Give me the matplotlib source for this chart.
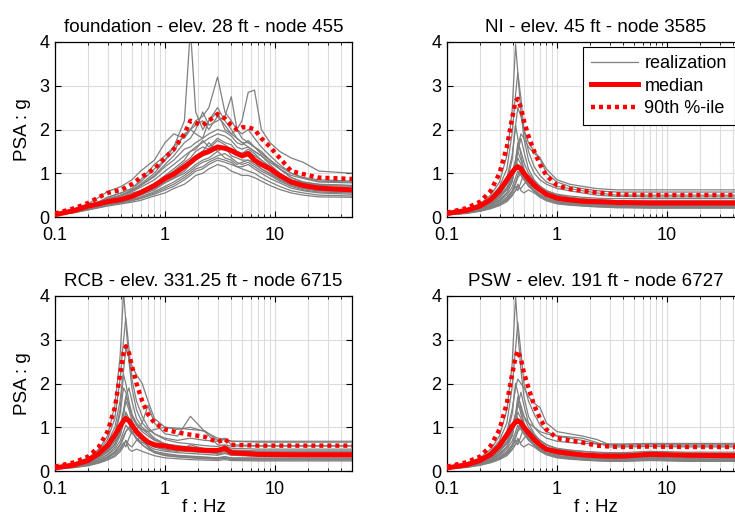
import matplotlib

matplotlib.use("Agg")
import matplotlib.pyplot as plt
from matplotlib.ticker import FixedLocator, LogLocator, NullFormatter

plt.rcParams["font.family"] = ["Liberation Sans", "DejaVu Sans"]

# Frequency grids (Hz).
FREQ_FOUNDATION = [0.1, 0.15, 0.2, 0.25, 0.3, 0.4, 0.5, 0.6, 0.8, 1.0,
                   1.2, 1.5, 1.7, 1.9, 2.2, 2.5, 3.0, 3.5, 4.0, 4.5,
                   5.0, 5.7, 6.5, 7.5, 9.0, 11, 14, 18, 25, 50]
FREQ_BUILDING = [0.1, 0.15, 0.2, 0.25, 0.3, 0.35, 0.39, 0.42, 0.44, 0.47,
                 0.5, 0.55, 0.62, 0.7, 0.8, 1.0, 1.3, 1.7, 2.3, 3.0,
                 3.5, 4.0, 7.0, 15, 50]

# foundation - elev. 28 ft - node 455
FDN_REAL = [
    [0.06, 0.15, 0.25, 0.32, 0.40, 0.50, 0.60, 0.75, 1.00, 1.30, 1.60, 2.20, 4.30, 2.40, 2.00, 2.20, 2.50, 2.20, 2.00, 1.80, 1.70, 1.60, 1.50, 1.40, 1.25, 1.10, 0.95, 0.88, 0.80, 0.78],
    [0.05, 0.14, 0.24, 0.33, 0.45, 0.55, 0.65, 0.80, 1.10, 1.30, 1.50, 1.90, 2.00, 2.20, 2.30, 2.50, 3.20, 2.40, 2.20, 2.00, 1.90, 2.00, 1.80, 1.60, 1.40, 1.20, 1.00, 0.90, 0.85, 0.82],
    [0.05, 0.13, 0.22, 0.30, 0.40, 0.50, 0.62, 0.72, 0.95, 1.20, 1.40, 1.70, 1.80, 2.00, 2.40, 2.10, 2.20, 2.30, 2.75, 2.00, 1.80, 1.70, 1.60, 1.45, 1.30, 1.15, 1.00, 0.90, 0.82, 0.80],
    [0.06, 0.16, 0.27, 0.35, 0.45, 0.55, 0.65, 0.85, 1.20, 1.40, 1.60, 1.85, 2.00, 2.10, 2.20, 2.00, 2.30, 2.10, 1.90, 2.00, 2.20, 2.85, 2.90, 2.00, 1.70, 1.50, 1.35, 1.25, 1.05, 1.00],
    [0.07, 0.18, 0.30, 0.45, 0.58, 0.70, 0.85, 1.05, 1.30, 1.70, 1.90, 1.80, 2.00, 1.90, 1.80, 2.20, 2.40, 2.00, 1.90, 1.80, 1.70, 1.70, 1.60, 1.50, 1.30, 1.10, 0.90, 0.80, 0.75, 0.72],
    [0.05, 0.13, 0.22, 0.30, 0.38, 0.45, 0.55, 0.60, 0.75, 0.95, 1.10, 1.30, 1.50, 1.60, 1.70, 1.80, 1.90, 1.85, 1.75, 1.60, 1.55, 1.60, 1.50, 1.40, 1.20, 1.00, 0.85, 0.78, 0.72, 0.70],
    [0.05, 0.12, 0.20, 0.26, 0.32, 0.38, 0.45, 0.52, 0.65, 0.80, 0.90, 1.05, 1.20, 1.30, 1.40, 1.45, 1.60, 1.55, 1.50, 1.45, 1.35, 1.40, 1.30, 1.20, 1.05, 0.90, 0.75, 0.68, 0.62, 0.60],
    [0.04, 0.11, 0.18, 0.24, 0.29, 0.34, 0.40, 0.46, 0.58, 0.70, 0.80, 0.95, 1.05, 1.15, 1.25, 1.30, 1.40, 1.45, 1.35, 1.25, 1.20, 1.25, 1.15, 1.05, 0.95, 0.82, 0.70, 0.62, 0.57, 0.55],
    [0.04, 0.10, 0.17, 0.22, 0.27, 0.32, 0.37, 0.42, 0.52, 0.62, 0.70, 0.85, 0.95, 1.05, 1.10, 1.20, 1.30, 1.25, 1.20, 1.15, 1.10, 1.05, 1.00, 0.90, 0.80, 0.70, 0.60, 0.55, 0.50, 0.48],
    [0.04, 0.10, 0.16, 0.21, 0.25, 0.30, 0.34, 0.38, 0.48, 0.55, 0.65, 0.75, 0.85, 0.95, 1.00, 1.10, 1.20, 1.15, 1.05, 1.00, 0.95, 0.95, 0.90, 0.82, 0.72, 0.63, 0.55, 0.50, 0.46, 0.45],
    [0.05, 0.14, 0.23, 0.31, 0.40, 0.48, 0.58, 0.68, 0.85, 1.05, 1.20, 1.40, 1.50, 1.55, 1.75, 1.60, 1.80, 1.70, 1.65, 1.50, 1.45, 1.50, 1.40, 1.30, 1.15, 1.00, 0.82, 0.72, 0.68, 0.66],
    [0.04, 0.12, 0.20, 0.27, 0.33, 0.40, 0.48, 0.55, 0.68, 0.85, 0.95, 1.15, 1.30, 1.40, 1.50, 1.70, 1.50, 1.60, 1.40, 1.35, 1.30, 1.30, 1.20, 1.10, 0.98, 0.85, 0.72, 0.65, 0.60, 0.58],
    [0.05, 0.13, 0.21, 0.28, 0.35, 0.42, 0.50, 0.58, 0.75, 0.92, 1.05, 1.25, 1.35, 1.50, 1.60, 1.55, 1.75, 1.65, 1.55, 1.50, 1.45, 1.55, 1.45, 1.30, 1.15, 1.00, 0.80, 0.72, 0.65, 0.63],
    [0.04, 0.11, 0.19, 0.25, 0.31, 0.37, 0.43, 0.50, 0.62, 0.78, 0.88, 1.00, 1.10, 1.20, 1.30, 1.35, 1.50, 1.35, 1.30, 1.20, 1.25, 1.30, 1.25, 1.10, 1.00, 0.88, 0.75, 0.66, 0.60, 0.57],
    [0.05, 0.14, 0.24, 0.33, 0.42, 0.50, 0.60, 0.72, 0.92, 1.15, 1.30, 1.55, 1.60, 1.70, 1.80, 1.90, 2.00, 1.95, 1.85, 1.70, 1.65, 1.75, 1.60, 1.45, 1.30, 1.10, 0.90, 0.80, 0.74, 0.72],
    [0.04, 0.11, 0.18, 0.23, 0.28, 0.33, 0.38, 0.44, 0.55, 0.66, 0.75, 0.90, 1.00, 1.10, 1.15, 1.25, 1.35, 1.30, 1.25, 1.15, 1.15, 1.20, 1.10, 1.00, 0.88, 0.78, 0.66, 0.60, 0.55, 0.52],
]
FDN_MEDIAN = [0.05, 0.15, 0.25, 0.30, 0.35, 0.40, 0.47, 0.56, 0.72, 0.88, 0.98, 1.15, 1.25, 1.35, 1.45, 1.50, 1.60, 1.57, 1.52, 1.45, 1.40, 1.45, 1.30, 1.20, 1.10, 0.95, 0.80, 0.72, 0.66, 0.62]
FDN_P90 = [0.08, 0.20, 0.32, 0.45, 0.55, 0.62, 0.75, 0.90, 1.10, 1.35, 1.55, 1.90, 2.20, 2.15, 2.10, 2.20, 2.35, 2.25, 2.10, 2.00, 2.05, 2.05, 2.00, 1.80, 1.60, 1.35, 1.05, 0.98, 0.90, 0.87]

# NI - elev. 45 ft - node 3585
NI_REAL = [
    [0.10, 0.18, 0.30, 0.50, 0.80, 1.40, 2.40, 3.95, 3.30, 2.40, 1.80, 1.30, 1.00, 0.85, 0.75, 0.65, 0.60, 0.55, 0.50, 0.48, 0.47, 0.47, 0.46, 0.46, 0.46],
    [0.09, 0.16, 0.27, 0.45, 0.70, 1.10, 1.90, 2.80, 3.30, 2.70, 2.00, 1.50, 1.15, 0.95, 0.80, 0.70, 0.65, 0.60, 0.55, 0.52, 0.50, 0.50, 0.50, 0.50, 0.50],
    [0.08, 0.15, 0.25, 0.40, 0.60, 0.90, 1.40, 2.10, 2.50, 2.30, 2.00, 1.70, 1.50, 1.35, 1.10, 0.85, 0.75, 0.70, 0.65, 0.63, 0.62, 0.62, 0.62, 0.62, 0.62],
    [0.07, 0.13, 0.22, 0.35, 0.50, 0.80, 1.30, 2.10, 1.80, 1.40, 1.10, 0.90, 0.80, 0.70, 0.60, 0.50, 0.45, 0.42, 0.40, 0.38, 0.37, 0.37, 0.37, 0.37, 0.37],
    [0.06, 0.12, 0.20, 0.30, 0.45, 0.65, 0.90, 1.20, 1.50, 1.80, 1.50, 1.10, 0.85, 0.70, 0.60, 0.50, 0.45, 0.40, 0.37, 0.35, 0.34, 0.34, 0.33, 0.33, 0.33],
    [0.06, 0.11, 0.18, 0.28, 0.40, 0.55, 0.80, 1.20, 1.50, 1.30, 1.05, 0.85, 0.70, 0.60, 0.50, 0.42, 0.38, 0.35, 0.33, 0.32, 0.31, 0.31, 0.30, 0.30, 0.30],
    [0.06, 0.11, 0.18, 0.27, 0.38, 0.55, 0.80, 1.25, 1.20, 1.00, 0.85, 0.70, 0.60, 0.52, 0.45, 0.38, 0.34, 0.31, 0.29, 0.28, 0.28, 0.28, 0.28, 0.28, 0.28],
    [0.05, 0.10, 0.16, 0.24, 0.34, 0.45, 0.60, 0.80, 0.95, 1.10, 0.95, 0.75, 0.60, 0.50, 0.42, 0.36, 0.32, 0.30, 0.28, 0.27, 0.26, 0.26, 0.26, 0.26, 0.26],
    [0.05, 0.09, 0.15, 0.22, 0.30, 0.40, 0.55, 0.70, 0.60, 0.80, 1.00, 0.80, 0.60, 0.48, 0.40, 0.33, 0.30, 0.27, 0.25, 0.24, 0.24, 0.24, 0.23, 0.23, 0.23],
    [0.05, 0.09, 0.14, 0.20, 0.28, 0.38, 0.50, 0.60, 0.70, 0.65, 0.75, 0.85, 0.65, 0.50, 0.40, 0.32, 0.28, 0.26, 0.24, 0.23, 0.22, 0.22, 0.22, 0.22, 0.22],
    [0.05, 0.08, 0.13, 0.19, 0.26, 0.35, 0.48, 0.62, 0.75, 0.60, 0.55, 0.62, 0.55, 0.45, 0.37, 0.30, 0.27, 0.25, 0.23, 0.22, 0.21, 0.21, 0.20, 0.20, 0.20],
    [0.07, 0.13, 0.22, 0.35, 0.50, 0.75, 1.00, 1.30, 1.60, 1.90, 1.80, 1.60, 1.45, 1.35, 1.00, 0.80, 0.70, 0.65, 0.60, 0.58, 0.57, 0.57, 0.57, 0.57, 0.57],
    [0.06, 0.11, 0.19, 0.30, 0.44, 0.62, 0.85, 1.10, 1.35, 1.20, 1.00, 0.82, 0.68, 0.58, 0.50, 0.42, 0.38, 0.36, 0.34, 0.33, 0.33, 0.33, 0.33, 0.33, 0.33],
    [0.05, 0.10, 0.17, 0.26, 0.37, 0.50, 0.68, 0.90, 1.05, 0.95, 0.85, 0.95, 0.80, 0.62, 0.50, 0.40, 0.36, 0.33, 0.31, 0.30, 0.30, 0.30, 0.30, 0.30, 0.30],
    [0.06, 0.12, 0.20, 0.32, 0.47, 0.68, 0.95, 1.30, 1.70, 1.50, 1.25, 1.00, 0.82, 0.70, 0.60, 0.52, 0.48, 0.45, 0.43, 0.42, 0.42, 0.42, 0.42, 0.42, 0.42],
    [0.05, 0.09, 0.15, 0.22, 0.31, 0.42, 0.58, 0.75, 0.90, 1.00, 0.90, 0.72, 0.58, 0.47, 0.40, 0.34, 0.31, 0.29, 0.27, 0.26, 0.25, 0.25, 0.25, 0.25, 0.25],
]
NI_MEDIAN = [0.08, 0.15, 0.25, 0.40, 0.60, 0.85, 1.02, 1.12, 1.15, 1.10, 1.00, 0.87, 0.73, 0.62, 0.52, 0.43, 0.39, 0.36, 0.35, 0.34, 0.33, 0.33, 0.32, 0.32, 0.32]
NI_P90 = [0.10, 0.20, 0.35, 0.60, 1.00, 1.60, 2.25, 2.65, 2.70, 2.50, 2.20, 1.85, 1.50, 1.20, 0.95, 0.72, 0.64, 0.60, 0.56, 0.53, 0.52, 0.51, 0.50, 0.50, 0.50]

# RCB - elev. 331.25 ft - node 6715
RCB_REAL = [
    [0.10, 0.18, 0.30, 0.50, 0.80, 1.50, 2.60, 4.10, 3.40, 2.50, 1.90, 1.40, 1.10, 0.95, 0.85, 0.75, 0.70, 0.75, 0.70, 0.68, 0.72, 0.68, 0.68, 0.68, 0.68],
    [0.09, 0.16, 0.28, 0.45, 0.72, 1.20, 2.10, 3.00, 3.50, 2.80, 2.10, 1.60, 1.25, 1.00, 0.85, 0.72, 0.65, 0.62, 0.58, 0.56, 0.60, 0.57, 0.57, 0.57, 0.57],
    [0.08, 0.15, 0.26, 0.42, 0.65, 1.00, 1.60, 2.30, 2.80, 2.60, 2.40, 2.20, 2.00, 1.60, 1.20, 1.00, 0.95, 1.00, 0.90, 0.75, 0.72, 0.68, 0.66, 0.66, 0.66],
    [0.07, 0.13, 0.22, 0.36, 0.55, 0.85, 1.40, 2.20, 2.00, 1.60, 1.30, 1.10, 0.95, 0.85, 0.72, 0.62, 0.55, 0.50, 0.48, 0.46, 0.50, 0.45, 0.44, 0.44, 0.44],
    [0.07, 0.12, 0.20, 0.32, 0.48, 0.70, 1.00, 1.40, 1.70, 1.90, 1.60, 1.20, 1.00, 0.90, 0.75, 0.62, 0.56, 0.52, 0.48, 0.45, 0.48, 0.44, 0.42, 0.42, 0.42],
    [0.06, 0.11, 0.19, 0.30, 0.43, 0.60, 0.90, 1.30, 1.60, 1.40, 1.15, 0.95, 1.10, 1.50, 1.10, 0.85, 0.80, 1.25, 0.90, 0.60, 0.58, 0.52, 0.50, 0.50, 0.50],
    [0.06, 0.10, 0.17, 0.26, 0.38, 0.55, 0.80, 1.10, 1.30, 1.10, 0.90, 0.75, 0.65, 0.58, 0.50, 0.45, 0.42, 0.40, 0.38, 0.36, 0.40, 0.36, 0.35, 0.35, 0.35],
    [0.05, 0.09, 0.15, 0.23, 0.33, 0.45, 0.60, 0.80, 0.90, 1.00, 1.10, 0.90, 0.70, 0.55, 0.45, 0.40, 0.36, 0.34, 0.32, 0.30, 0.33, 0.30, 0.30, 0.30, 0.30],
    [0.05, 0.09, 0.14, 0.21, 0.30, 0.40, 0.52, 0.65, 0.55, 0.75, 0.90, 0.75, 0.60, 0.50, 0.42, 0.36, 0.33, 0.31, 0.29, 0.28, 0.30, 0.27, 0.27, 0.27, 0.27],
    [0.05, 0.08, 0.13, 0.19, 0.27, 0.36, 0.48, 0.60, 0.70, 0.60, 0.55, 0.70, 0.80, 0.55, 0.42, 0.35, 0.32, 0.30, 0.28, 0.27, 0.29, 0.26, 0.25, 0.25, 0.25],
    [0.04, 0.08, 0.12, 0.18, 0.25, 0.33, 0.44, 0.56, 0.70, 0.50, 0.45, 0.50, 0.45, 0.40, 0.35, 0.30, 0.28, 0.26, 0.25, 0.24, 0.26, 0.24, 0.23, 0.23, 0.23],
    [0.07, 0.13, 0.22, 0.35, 0.52, 0.80, 1.30, 1.90, 1.80, 1.50, 1.25, 1.05, 0.95, 0.90, 0.95, 1.00, 0.98, 0.95, 0.92, 0.70, 0.75, 0.60, 0.58, 0.58, 0.58],
    [0.06, 0.11, 0.19, 0.30, 0.44, 0.62, 0.85, 1.10, 1.35, 1.20, 1.00, 0.82, 0.70, 0.62, 0.55, 0.50, 0.46, 0.44, 0.42, 0.40, 0.45, 0.40, 0.38, 0.38, 0.38],
    [0.05, 0.10, 0.17, 0.26, 0.37, 0.50, 0.68, 0.90, 1.05, 0.95, 0.85, 0.95, 0.80, 0.65, 0.55, 0.48, 0.45, 0.60, 0.50, 0.38, 0.42, 0.36, 0.34, 0.34, 0.34],
    [0.06, 0.12, 0.20, 0.32, 0.47, 0.68, 0.95, 1.30, 1.70, 1.50, 1.25, 1.05, 0.90, 0.80, 0.70, 0.62, 0.58, 0.55, 0.52, 0.50, 0.56, 0.48, 0.46, 0.46, 0.46],
    [0.05, 0.09, 0.15, 0.22, 0.31, 0.42, 0.58, 0.75, 0.90, 1.00, 0.90, 0.72, 0.60, 0.50, 0.43, 0.38, 0.35, 0.33, 0.31, 0.30, 0.32, 0.29, 0.28, 0.28, 0.28],
]
RCB_MEDIAN = [0.07, 0.14, 0.24, 0.40, 0.58, 0.82, 1.02, 1.15, 1.20, 1.15, 1.05, 0.90, 0.77, 0.66, 0.60, 0.57, 0.52, 0.50, 0.47, 0.47, 0.52, 0.42, 0.38, 0.37, 0.37]
RCB_P90 = [0.10, 0.20, 0.33, 0.55, 0.90, 1.45, 2.20, 2.70, 2.85, 2.70, 2.40, 2.00, 1.60, 1.30, 1.10, 0.95, 0.88, 0.83, 0.78, 0.66, 0.73, 0.60, 0.58, 0.58, 0.58]

# PSW - elev. 191 ft - node 6727
PSW_REAL = [
    [0.10, 0.18, 0.30, 0.50, 0.80, 1.40, 2.40, 4.00, 3.20, 2.30, 1.70, 1.25, 1.00, 0.85, 0.75, 0.68, 0.65, 0.63, 0.62, 0.62, 0.62, 0.62, 0.63, 0.63, 0.63],
    [0.09, 0.16, 0.27, 0.45, 0.70, 1.10, 1.90, 2.80, 3.40, 2.70, 2.00, 1.60, 1.30, 1.05, 0.90, 0.80, 0.75, 0.70, 0.62, 0.60, 0.60, 0.60, 0.60, 0.60, 0.60],
    [0.08, 0.15, 0.25, 0.40, 0.60, 0.90, 1.40, 1.90, 2.10, 2.00, 1.90, 1.70, 1.55, 1.45, 1.10, 0.90, 0.85, 0.80, 0.72, 0.60, 0.58, 0.57, 0.57, 0.57, 0.57],
    [0.07, 0.13, 0.22, 0.35, 0.50, 0.80, 1.30, 2.00, 1.80, 1.40, 1.10, 0.90, 0.80, 0.70, 0.60, 0.50, 0.47, 0.45, 0.42, 0.40, 0.40, 0.40, 0.42, 0.40, 0.40],
    [0.06, 0.12, 0.20, 0.30, 0.45, 0.65, 0.90, 1.20, 1.50, 1.80, 1.50, 1.10, 0.85, 0.70, 0.60, 0.50, 0.45, 0.40, 0.37, 0.35, 0.35, 0.35, 0.37, 0.35, 0.35],
    [0.06, 0.11, 0.18, 0.28, 0.40, 0.55, 0.80, 1.20, 1.60, 1.30, 1.05, 0.85, 0.70, 0.60, 0.50, 0.42, 0.38, 0.35, 0.33, 0.32, 0.32, 0.32, 0.34, 0.32, 0.32],
    [0.06, 0.11, 0.18, 0.27, 0.38, 0.55, 0.80, 1.30, 1.20, 1.00, 0.85, 0.70, 0.60, 0.52, 0.45, 0.38, 0.34, 0.31, 0.29, 0.28, 0.28, 0.28, 0.31, 0.29, 0.29],
    [0.05, 0.10, 0.16, 0.24, 0.34, 0.45, 0.60, 0.80, 0.95, 1.10, 0.95, 0.75, 0.60, 0.50, 0.42, 0.36, 0.32, 0.30, 0.28, 0.27, 0.27, 0.27, 0.29, 0.27, 0.27],
    [0.05, 0.09, 0.15, 0.22, 0.30, 0.40, 0.55, 0.70, 0.60, 0.80, 1.00, 0.80, 0.60, 0.48, 0.40, 0.33, 0.30, 0.27, 0.25, 0.24, 0.24, 0.24, 0.26, 0.24, 0.24],
    [0.05, 0.09, 0.14, 0.20, 0.28, 0.38, 0.50, 0.60, 0.70, 0.65, 0.75, 0.85, 0.65, 0.50, 0.40, 0.32, 0.28, 0.26, 0.24, 0.23, 0.23, 0.23, 0.25, 0.23, 0.23],
    [0.05, 0.08, 0.13, 0.19, 0.26, 0.35, 0.48, 0.62, 0.75, 0.60, 0.55, 0.62, 0.55, 0.45, 0.37, 0.30, 0.27, 0.25, 0.23, 0.22, 0.22, 0.22, 0.24, 0.22, 0.22],
    [0.07, 0.13, 0.22, 0.35, 0.50, 0.75, 1.00, 1.30, 1.50, 1.40, 1.25, 1.10, 1.00, 0.90, 0.85, 0.80, 0.78, 0.75, 0.65, 0.55, 0.55, 0.55, 0.56, 0.55, 0.55],
    [0.06, 0.11, 0.19, 0.30, 0.44, 0.62, 0.85, 1.10, 1.35, 1.20, 1.00, 0.82, 0.68, 0.58, 0.50, 0.43, 0.40, 0.38, 0.36, 0.35, 0.35, 0.35, 0.38, 0.36, 0.36],
    [0.05, 0.10, 0.17, 0.26, 0.37, 0.50, 0.68, 0.90, 1.05, 0.95, 0.85, 0.95, 0.80, 0.62, 0.50, 0.40, 0.36, 0.33, 0.31, 0.30, 0.30, 0.30, 0.33, 0.31, 0.31],
    [0.06, 0.12, 0.20, 0.32, 0.47, 0.68, 0.95, 1.30, 1.70, 1.50, 1.25, 1.00, 0.82, 0.70, 0.60, 0.52, 0.48, 0.45, 0.43, 0.42, 0.42, 0.42, 0.45, 0.43, 0.43],
    [0.05, 0.09, 0.15, 0.22, 0.31, 0.42, 0.58, 0.75, 0.90, 1.00, 0.90, 0.72, 0.58, 0.47, 0.40, 0.34, 0.31, 0.29, 0.27, 0.26, 0.26, 0.26, 0.28, 0.26, 0.26],
]
PSW_MEDIAN = [0.07, 0.14, 0.24, 0.38, 0.58, 0.83, 1.02, 1.12, 1.15, 1.10, 1.00, 0.87, 0.72, 0.60, 0.50, 0.44, 0.40, 0.37, 0.35, 0.34, 0.34, 0.34, 0.38, 0.36, 0.35]
PSW_P90 = [0.10, 0.20, 0.33, 0.58, 0.95, 1.55, 2.20, 2.60, 2.75, 2.55, 2.25, 1.90, 1.50, 1.20, 0.95, 0.75, 0.70, 0.65, 0.58, 0.56, 0.55, 0.55, 0.56, 0.55, 0.55]

TITLES = [
    "foundation - elev. 28 ft - node 455",
    "NI - elev. 45 ft - node 3585",
    "RCB - elev. 331.25 ft - node 6715",
    "PSW - elev. 191 ft - node 6727",
]
X_TICKS = [0.1, 1, 10]
X_TICK_LABELS = ["0.1", "1", "10"]
Y_TICKS = [0, 1, 2, 3, 4]

GRAY = "#808080"
RED = "#ff0000"
GRID = "#dcdcdc"
DOTS = (0, (0.9, 0.9))


def draw_panel(ax, freq, realizations, median, p90, title, left_col, bottom_row):
    for curve in realizations:
        ax.plot(freq, curve, color=GRAY, linewidth=0.9, zorder=2)
    ax.plot(freq, median, color=RED, linewidth=3.6, zorder=3)
    ax.plot(freq, p90, color=RED, linewidth=3.2, linestyle=DOTS, zorder=3)

    ax.set_xscale("log")
    ax.set_xlim(0.1, 50)
    ax.set_ylim(0, 4)
    ax.xaxis.set_major_locator(FixedLocator(X_TICKS))
    ax.set_xticklabels(X_TICK_LABELS)
    ax.xaxis.set_minor_locator(LogLocator(base=10, subs=range(2, 10)))
    ax.xaxis.set_minor_formatter(NullFormatter())
    ax.set_yticks(Y_TICKS)

    ax.grid(True, which="major", color=GRID, linewidth=0.8, zorder=0)
    ax.grid(True, which="minor", axis="x", color=GRID, linewidth=0.8, zorder=0)
    ax.set_axisbelow(True)

    ax.tick_params(direction="in", top=True, right=True, labelsize=13,
                   length=4, width=0.8)
    ax.tick_params(axis="x", pad=7)
    ax.tick_params(axis="y", pad=4)
    ax.tick_params(which="minor", direction="in", top=True, length=2, width=0.6)
    for spine in ax.spines.values():
        spine.set_linewidth(0.9)

    ax.set_title(title, fontsize=13.5, pad=7)
    if left_col:
        ax.set_ylabel("PSA : g", fontsize=13.5, labelpad=6)
    if bottom_row:
        ax.set_xlabel("f : Hz", fontsize=13.5, labelpad=1)


def main() -> None:
    fig = plt.figure(figsize=(7.35, 5.21), dpi=100)
    w, h = 297 / 735, 175 / 521
    ax_fdn = fig.add_axes([55 / 735, 1 - 217 / 521, w, h])
    ax_ni = fig.add_axes([447 / 735, 1 - 217 / 521, w, h])
    ax_rcb = fig.add_axes([55 / 735, 1 - 471 / 521, w, h])
    ax_psw = fig.add_axes([447 / 735, 1 - 471 / 521, w, h])

    draw_panel(ax_fdn, FREQ_FOUNDATION, FDN_REAL, FDN_MEDIAN, FDN_P90, TITLES[0], True, False)
    draw_panel(ax_ni, FREQ_BUILDING, NI_REAL, NI_MEDIAN, NI_P90, TITLES[1], False, False)
    draw_panel(ax_rcb, FREQ_BUILDING, RCB_REAL, RCB_MEDIAN, RCB_P90, TITLES[2], True, True)
    draw_panel(ax_psw, FREQ_BUILDING, PSW_REAL, PSW_MEDIAN, PSW_P90, TITLES[3], False, True)

    handles = [
        plt.Line2D([], [], color=GRAY, linewidth=0.9),
        plt.Line2D([], [], color=RED, linewidth=3.6),
        plt.Line2D([], [], color=RED, linewidth=3.2, linestyle=DOTS),
    ]
    # legend sits at the top right of the NI panel, running off the page edge
    leg = fig.legend(handles, ["realization", "median", "90th %-ile"],
                     loc="upper left", bbox_to_anchor=(583 / 735, 1 - 47 / 521),
                     fontsize=13, frameon=True, fancybox=False,
                     framealpha=1, edgecolor="black", borderaxespad=0,
                     handlelength=2.6, handletextpad=0.35, labelspacing=0.3,
                     borderpad=0.45)
    leg.get_frame().set_linewidth(0.8)

    fig.savefig("out.png", dpi=100)


if __name__ == "__main__":
    main()
